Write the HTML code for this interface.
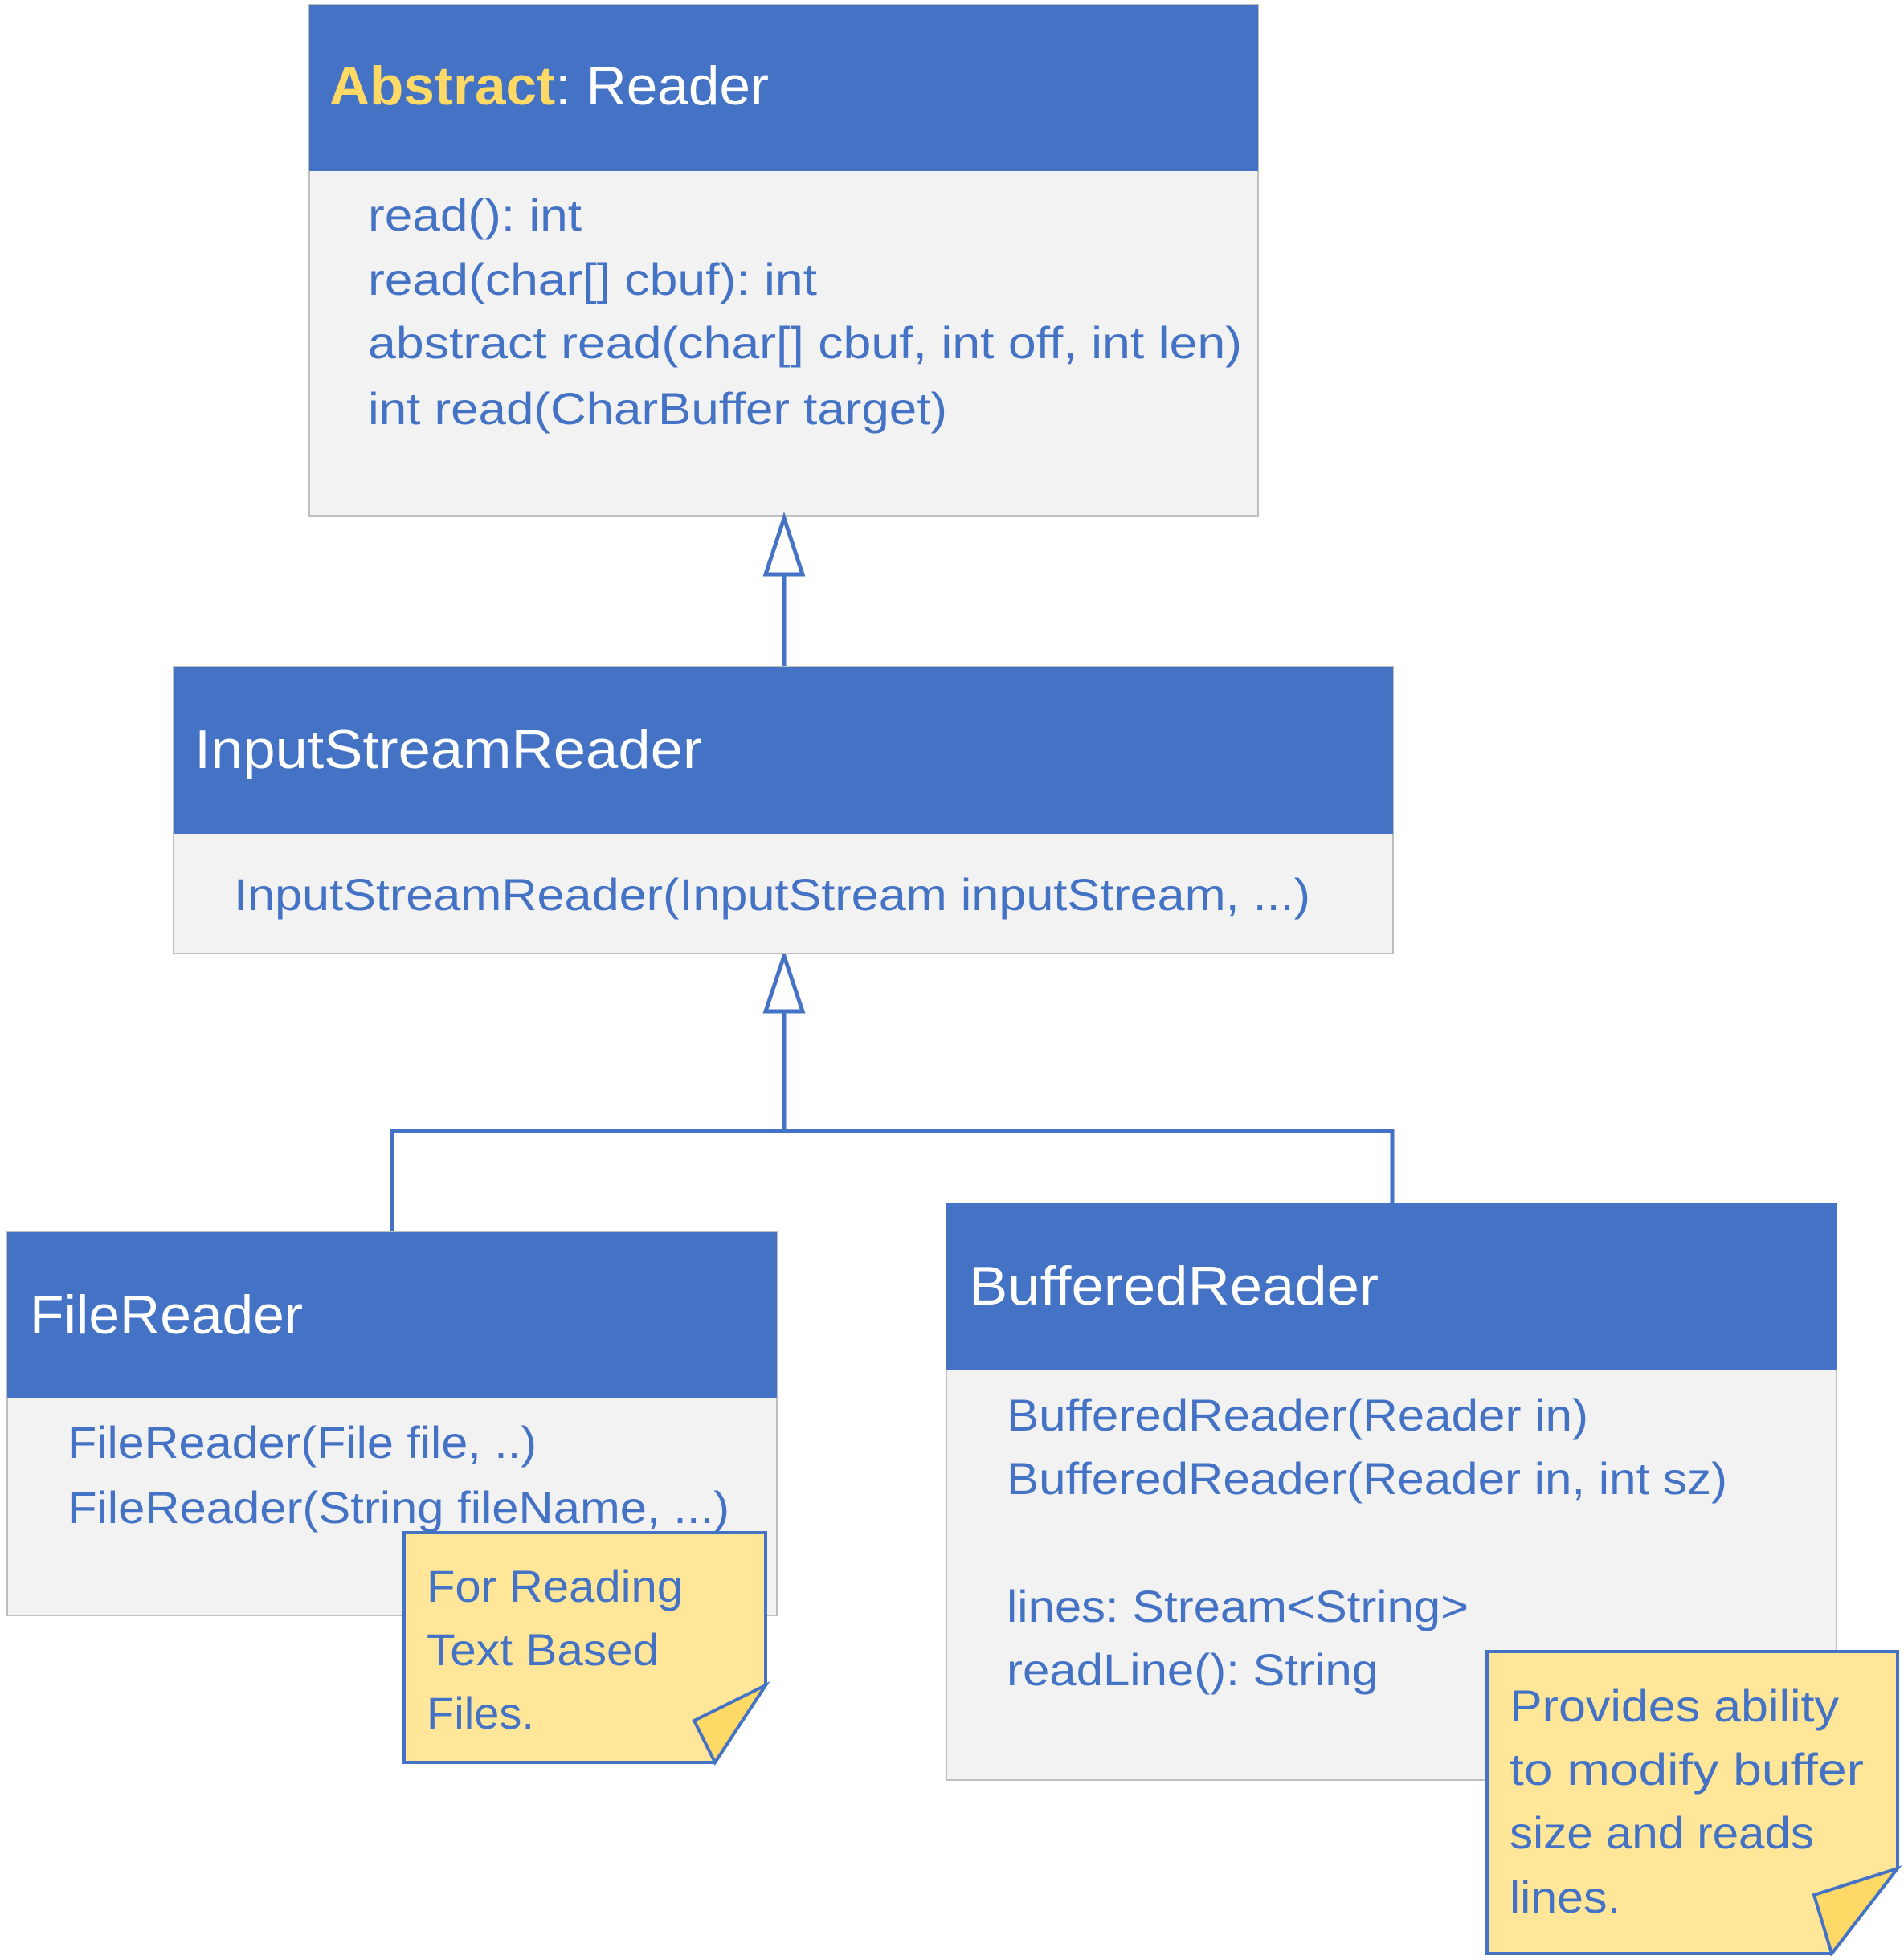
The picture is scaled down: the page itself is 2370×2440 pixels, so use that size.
<!DOCTYPE html>
<html><head><meta charset="utf-8"><style>html,body{margin:0;padding:0;background:#fff}</style></head>
<body>
<svg width="2370" height="2435" viewBox="0 0 2370 2435" xmlns="http://www.w3.org/2000/svg" font-family="'Liberation Sans', sans-serif">
<rect width="2370" height="2435" fill="#fff"/>
<!-- Reader -->
<rect x="385" y="6" width="1181" height="636" fill="#F2F2F2" stroke="#BFBFBF" stroke-width="2"/>
<rect x="385" y="6" width="1181" height="207" fill="#4472C4"/>
<text x="410" y="130" font-size="68" fill="#fff" textLength="547" lengthAdjust="spacingAndGlyphs"><tspan fill="#FFD966" font-weight="bold">Abstract</tspan>: Reader</text>
<g font-size="56" fill="#4472C4">
<text x="458" y="287" textLength="266" lengthAdjust="spacingAndGlyphs">read(): int</text>
<text x="458" y="367" textLength="559" lengthAdjust="spacingAndGlyphs">read(char[] cbuf): int</text>
<text x="458" y="446" textLength="1088" lengthAdjust="spacingAndGlyphs">abstract read(char[] cbuf, int off, int len)</text>
<text x="458" y="528" textLength="721" lengthAdjust="spacingAndGlyphs">int read(CharBuffer target)</text>
</g>
<!-- connectors -->
<g stroke="#4472C4" stroke-width="5" fill="none">
<line x1="976" y1="715" x2="976" y2="830"/>
<line x1="976" y1="1259" x2="976" y2="1408"/>
<polyline points="488,1534 488,1408 1733,1408 1733,1498"/>
<polygon points="976,645 953,715 999,715" fill="#fff"/>
<polygon points="976,1190 953,1259 999,1259" fill="#fff"/>
</g>
<!-- ISR -->
<rect x="216" y="830" width="1518" height="357" fill="#F2F2F2" stroke="#BFBFBF" stroke-width="2"/>
<rect x="216" y="830" width="1518" height="208" fill="#4472C4"/>
<text x="242" y="956" font-size="68" fill="#fff" textLength="632" lengthAdjust="spacingAndGlyphs">InputStreamReader</text>
<text x="291" y="1133" font-size="56" fill="#4472C4" textLength="1340" lengthAdjust="spacingAndGlyphs">InputStreamReader(InputStream inputStream, ...)</text>
<!-- FileReader -->
<rect x="9" y="1534" width="958" height="477" fill="#F2F2F2" stroke="#BFBFBF" stroke-width="2"/>
<rect x="9" y="1534" width="958" height="206" fill="#4472C4"/>
<text x="37" y="1660" font-size="68" fill="#fff" textLength="340" lengthAdjust="spacingAndGlyphs">FileReader</text>
<g font-size="56" fill="#4472C4">
<text x="84" y="1815" textLength="584" lengthAdjust="spacingAndGlyphs">FileReader(File file, ..)</text>
<text x="84" y="1896" textLength="824" lengthAdjust="spacingAndGlyphs">FileReader(String fileName, ...)</text>
</g>
<!-- BufferedReader -->
<rect x="1178" y="1498" width="1108" height="718" fill="#F2F2F2" stroke="#BFBFBF" stroke-width="2"/>
<rect x="1178" y="1498" width="1108" height="207" fill="#4472C4"/>
<text x="1206" y="1624" font-size="68" fill="#fff" textLength="510" lengthAdjust="spacingAndGlyphs">BufferedReader</text>
<g font-size="56" fill="#4472C4">
<text x="1253" y="1781" textLength="724" lengthAdjust="spacingAndGlyphs">BufferedReader(Reader in)</text>
<text x="1253" y="1860" textLength="897" lengthAdjust="spacingAndGlyphs">BufferedReader(Reader in, int sz)</text>
<text x="1253" y="2019" textLength="575" lengthAdjust="spacingAndGlyphs">lines: Stream&lt;String&gt;</text>
<text x="1253" y="2098" textLength="463" lengthAdjust="spacingAndGlyphs">readLine(): String</text>
</g>
<!-- Notes -->
<g stroke="#4472C4" stroke-width="4" stroke-linejoin="miter">
<polygon points="503,1908 953,1908 953,2098 890,2194 503,2194" fill="#FFE699"/>
<polygon points="953,2098 864,2142 890,2194" fill="#FFD966"/>
<polygon points="1851,2056 2362,2056 2362,2326 2280,2432 1851,2432" fill="#FFE699"/>
<polygon points="2362,2326 2258,2359 2280,2432" fill="#FFD966"/>
</g>
<g font-size="56" fill="#4472C4">
<text x="531" y="1994" textLength="319" lengthAdjust="spacingAndGlyphs">For Reading</text>
<text x="531" y="2073" textLength="289" lengthAdjust="spacingAndGlyphs">Text Based</text>
<text x="531" y="2152" textLength="134" lengthAdjust="spacingAndGlyphs">Files.</text>
<text x="1879" y="2143" textLength="410" lengthAdjust="spacingAndGlyphs">Provides ability</text>
<text x="1879" y="2222" textLength="441" lengthAdjust="spacingAndGlyphs">to modify buffer</text>
<text x="1879" y="2301" textLength="379" lengthAdjust="spacingAndGlyphs">size and reads</text>
<text x="1879" y="2381" textLength="138" lengthAdjust="spacingAndGlyphs">lines.</text>
</g>
</svg>
</body></html>
